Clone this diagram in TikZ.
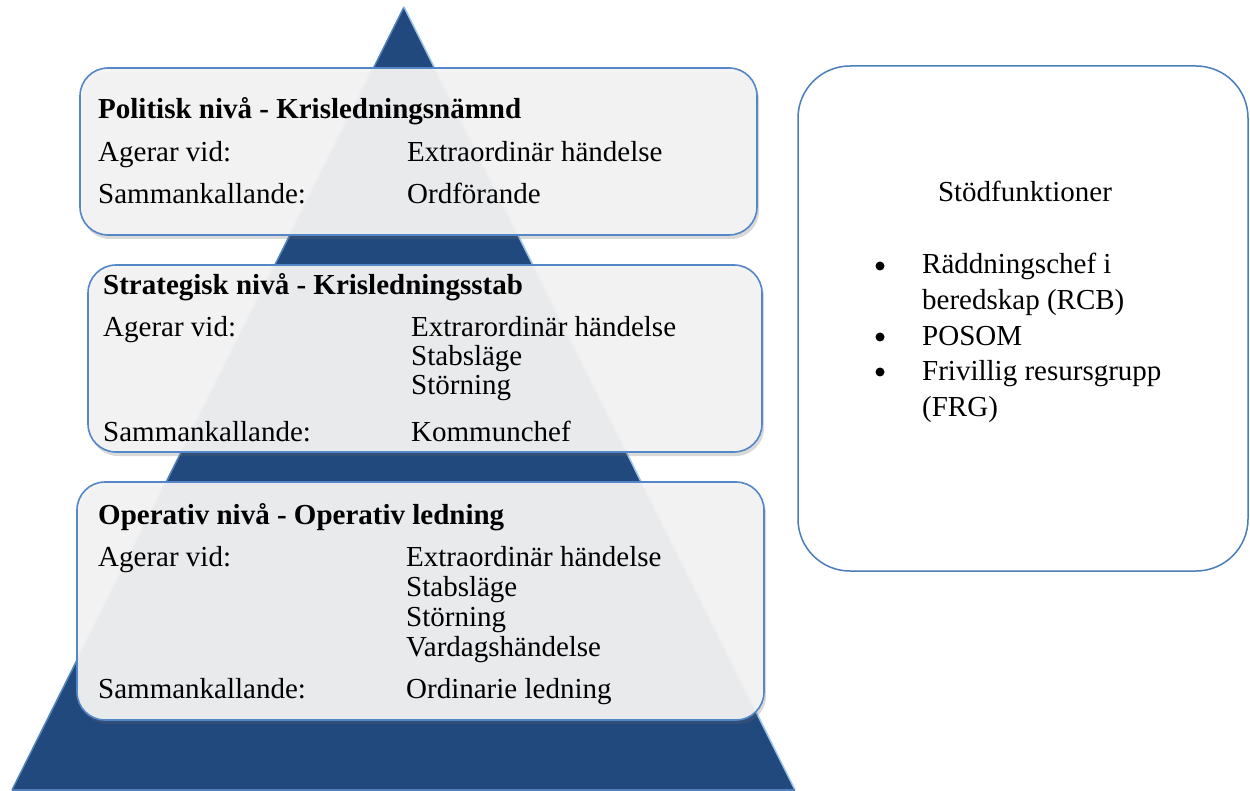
\documentclass[tikz,border=0pt]{standalone}
\usepackage{fontspec}
\setmainfont{Liberation Serif}
\usetikzlibrary{shadows}
\definecolor{pyr}{RGB}{33,73,125}
\definecolor{pyredge}{RGB}{79,129,189}
\definecolor{pyrhi}{RGB}{150,195,235}
\definecolor{boxfill}{RGB}{243,243,243}
\definecolor{boxline}{RGB}{84,135,200}
\definecolor{sideline}{RGB}{74,126,187}
\begin{document}
\begin{tikzpicture}[x=1pt,y=-1pt,
  txt/.style={anchor=base west, inner sep=0pt, font=\fontsize{29}{33}\selectfont},
  ttl/.style={anchor=base west, inner sep=0pt, font=\fontsize{29}{33}\selectfont\bfseries},
  bul/.style={circle, fill=black, inner sep=0pt, minimum size=9pt},
  level/.style={draw=boxline, line width=1.6pt, fill=boxfill, fill opacity=0.95, rounded corners=28pt,
    drop shadow={shadow xshift=2pt, shadow yshift=-4pt, opacity=0.25, fill=black!60}}]
\useasboundingbox (0,0) rectangle (1250,791);
% pyramid
\coordinate (apex) at (404,7);
\coordinate (bl) at (12,790);
\coordinate (br) at (795,790);
\fill[pyr] (apex)--(bl)--(br)--cycle;
\draw[pyredge, line width=1.5pt] (bl)--(apex);
\draw[pyrhi, line width=1.5pt] (apex)--(br);
\draw[pyredge, line width=1.5pt] (bl)--(br);
% level boxes
\path[level] (80,68) rectangle (757,235);
\path[level] (88,265) rectangle (762,452);
\path[level] (77,482) rectangle (764,720);
% box 1
\node[ttl] (t1) at (98,119) {Politisk nivå - Krisledningsnämnd};
\node[txt] (a1) at (98,162) {Agerar vid:};
\node[txt] (a1v) at (407,162) {Extraordinär händelse};
\node[txt] (s1) at (98,204) {Sammankallande:};
\node[txt] (s1v) at (407,204) {Ordförande};
% box 2
\node[ttl] (t2) at (103,295) {Strategisk nivå - Krisledningsstab};
\node[txt] (a2) at (103,337) {Agerar vid:};
\node[txt] (a2v1) at (411,337) {Extrarordinär händelse};
\node[txt] (a2v2) at (411,366) {Stabsläge};
\node[txt] (a2v3) at (411,395) {Störning};
\node[txt] (s2) at (103,441) {Sammankallande:};
\node[txt] (s2v) at (411,441) {Kommunchef};
% box 3
\node[ttl] (t3) at (98,524) {Operativ nivå - Operativ ledning};
\node[txt] (a3) at (98,566) {Agerar vid:};
\node[txt] (a3v1) at (406,566) {Extraordinär händelse};
\node[txt] (a3v2) at (406,596) {Stabsläge};
\node[txt] (a3v3) at (406,626) {Störning};
\node[txt] (a3v4) at (406,656) {Vardagshändelse};
\node[txt] (s3) at (98,698) {Sammankallande:};
\node[txt] (s3v) at (406,698) {Ordinarie ledning};
% support box
\draw[sideline, line width=1.5pt, rounded corners=52pt] (798,66) rectangle (1248,571);
\node[anchor=base, inner sep=0pt, font=\fontsize{29}{33}\selectfont] (sf) at (1025,202) {Stödfunktioner};
\node[bul] (b1) at (880,266) {};
\node[bul] (b2) at (880,337) {};
\node[bul] (b3) at (880,372) {};
\node[txt] (r1) at (922,274) {Räddningschef i};
\node[txt] (r1b) at (922,310) {beredskap (RCB)};
\node[txt] (r2) at (922,346) {POSOM};
\node[txt] (r3) at (922,381) {Frivillig resursgrupp};
\node[txt] (r3b) at (922,417) {(FRG)};
\end{tikzpicture}
\end{document}
